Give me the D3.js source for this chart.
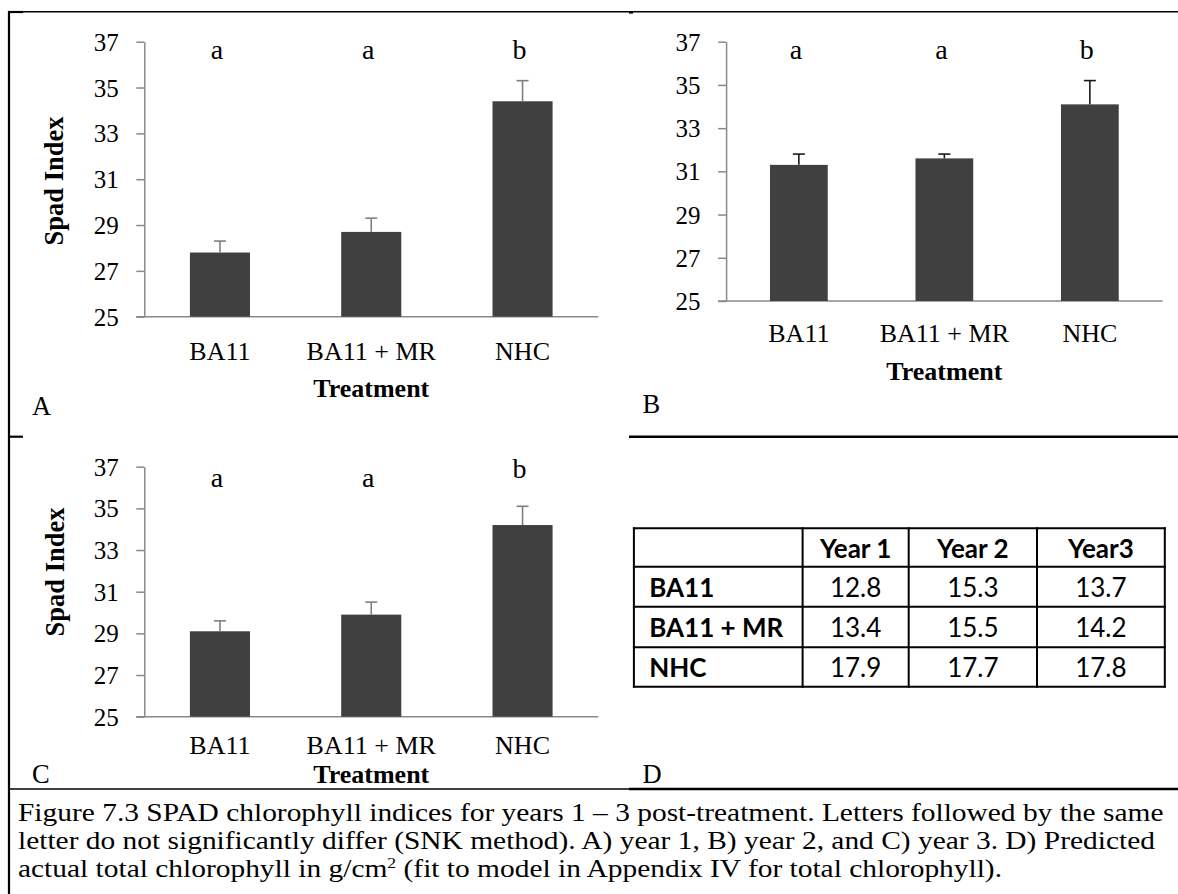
<!DOCTYPE html>
<html>
<head>
<meta charset="utf-8">
<script src="https://cdn.jsdelivr.net/npm/d3@7"></script>
<style>
  body { margin: 0; background: #fff; }
  svg { display: block; }
</style>
</head>
<body>
<svg id="fig" width="1178" height="894"></svg>
<script>
// ---- data ----
const treatments = ["BA11", "BA11 + MR", "NHC"];
const year1Means = [27.8, 28.7, 34.4];
const year1Errors = [0.5, 0.6, 0.9];
const year2Means = [31.3, 31.6, 34.1];
const year2Errors = [0.5, 0.2, 1.1];
const year3Means = [29.1, 29.9, 34.2];
const year3Errors = [0.5, 0.6, 0.9];
const groupLetters = ["a", "a", "b"];
const yTicks = [25, 27, 29, 31, 33, 35, 37];
const tableColumns = ["Year 1", "Year 2", "Year3"];
const chlorophyllYear1 = [12.8, 13.4, 17.9];
const chlorophyllYear2 = [15.3, 15.5, 17.7];
const chlorophyllYear3 = [13.7, 14.2, 17.8];
const captionLine1 = "Figure 7.3 SPAD chlorophyll indices for years 1 \u2013 3 post-treatment. Letters followed by the same";
const captionLine2 = "letter do not significantly differ (SNK method). A) year 1, B) year 2, and C) year 3. D) Predicted";
const captionLine3a = "actual total chlorophyll in g/cm";
const captionLine3b = "2";
const captionLine3c = " (fit to model in Appendix IV for total chlorophyll).";

// ---- styling ----
const serif = "'Liberation Serif', 'Times New Roman', serif";
const sans = "Lato, 'Open Sans', sans-serif";
const axisGray = "#898989";
const barFill = "#404040";

const svg = d3.select("#fig");

function label(parent, x, y, str, size, opts = {}) {
  return parent.append("text")
    .attr("x", x).attr("y", y)
    .attr("text-anchor", opts.anchor || "start")
    .attr("font-family", serif)
    .attr("font-size", size)
    .attr("font-weight", opts.weight || "normal")
    .attr("fill", "#000")
    .text(str);
}

// ---- layout frame (document table borders) ----
const frame = svg.append("g").attr("stroke", "#000").attr("fill", "none");
frame.append("line").attr("x1", 8).attr("x2", 1178).attr("y1", 11.7).attr("y2", 11.7).attr("stroke-width", 1.4);
frame.append("line").attr("x1", 8).attr("x2", 23).attr("y1", 12).attr("y2", 12).attr("stroke-width", 2.2);
frame.append("line").attr("x1", 629).attr("x2", 633).attr("y1", 12.5).attr("y2", 12.5).attr("stroke-width", 2.2);
frame.append("line").attr("x1", 9).attr("x2", 9).attr("y1", 11).attr("y2", 894).attr("stroke-width", 2.2);
frame.append("line").attr("x1", 8).attr("x2", 23).attr("y1", 436.7).attr("y2", 436.7).attr("stroke-width", 2.2);
frame.append("line").attr("x1", 629).attr("x2", 1178).attr("y1", 436.7).attr("y2", 436.7).attr("stroke-width", 2.4);
frame.append("line").attr("x1", 8).attr("x2", 629).attr("y1", 789).attr("y2", 789).attr("stroke-width", 1.4);
frame.append("line").attr("x1", 629).attr("x2", 1178).attr("y1", 789).attr("y2", 789).attr("stroke-width", 2.4);

// ---- bar chart panels ----
const panels = [
  { means: year1Means, errors: year1Errors, x0: 144.3, x1: 598.2, yTop: 41.7, yBottom: 316.7,
    errColor: "#7f7f7f", letterY: [59, 59, 59], labelY: 360, titleY: 396.7,
    tag: "A", tagX: 32, tagY: 415, yTitle: true, yTitleX: 62.5, yTitleY: 181 },
  { means: year2Means, errors: year2Errors, x0: 726.1, x1: 1162.6, yTop: 41.7, yBottom: 301,
    errColor: "#1a1a1a", letterY: [59, 59, 59], labelY: 341.7, titleY: 380,
    tag: "B", tagX: 642.5, tagY: 413, yTitle: false },
  { means: year3Means, errors: year3Errors, x0: 144.3, x1: 598.2, yTop: 466.7, yBottom: 716.7,
    errColor: "#7f7f7f", letterY: [487, 487, 478], labelY: 754, titleY: 783,
    tag: "C", tagX: 32, tagY: 783, yTitle: true, yTitleX: 64, yTitleY: 572 }
];

panels.forEach(p => {
  const g = svg.append("g");
  const x = d3.scaleBand().domain(treatments).range([p.x0, p.x1])
    .paddingInner(0.603).paddingOuter(0.3015);
  const y = d3.scaleLinear().domain([25, 37]).range([p.yBottom, p.yTop]);

  // value axis
  const ax = g.append("g")
    .attr("transform", `translate(${p.x0},0)`)
    .call(d3.axisLeft(y).tickValues(yTicks).tickSize(8).tickSizeOuter(0)
      .tickPadding(17.5).tickFormat(d3.format("d")));
  ax.select(".domain").attr("stroke", axisGray).attr("stroke-width", 1.5);
  ax.selectAll(".tick line").attr("stroke", axisGray).attr("stroke-width", 1.5);
  ax.selectAll(".tick text")
    .attr("dy", "0.34em")
    .attr("font-family", serif).attr("font-size", 25).attr("fill", "#000");

  // category axis line
  g.append("line")
    .attr("x1", p.x0 - 8).attr("x2", p.x1)
    .attr("y1", y(25)).attr("y2", y(25))
    .attr("stroke", axisGray).attr("stroke-width", 1.5);

  const rows = treatments.map((t, i) => ({ t, m: p.means[i], e: p.errors[i], letter: groupLetters[i], ly: p.letterY[i] }));
  const cx = d => x(d.t) + x.bandwidth() / 2;

  // bars
  g.selectAll("rect.bar").data(rows).join("rect")
    .attr("class", "bar")
    .attr("x", d => x(d.t))
    .attr("width", x.bandwidth())
    .attr("y", d => y(d.m))
    .attr("height", d => y(25) - y(d.m))
    .attr("fill", barFill);

  // upper error bars
  const eb = g.selectAll("g.err").data(rows).join("g").attr("class", "err")
    .attr("stroke", p.errColor).attr("stroke-width", 1.6);
  eb.append("line")
    .attr("x1", cx).attr("x2", cx)
    .attr("y1", d => y(d.m)).attr("y2", d => y(d.m + d.e));
  eb.append("line")
    .attr("x1", d => cx(d) - 6).attr("x2", d => cx(d) + 6)
    .attr("y1", d => y(d.m + d.e)).attr("y2", d => y(d.m + d.e));

  // significance letters, category labels
  rows.forEach(d => {
    label(g, cx(d) - 3, d.ly, d.letter, 28, { anchor: "middle" });
    label(g, cx(d), p.labelY, d.t, 26, { anchor: "middle" });
  });

  // axis titles and panel tag
  label(g, (p.x0 + p.x1) / 2, p.titleY, "Treatment", 26, { anchor: "middle", weight: "bold" });
  if (p.yTitle) {
    g.append("text")
      .attr("transform", `translate(${p.yTitleX},${p.yTitleY}) rotate(-90)`)
      .attr("text-anchor", "middle")
      .attr("font-family", serif).attr("font-size", 26.5).attr("font-weight", "bold")
      .text("Spad Index");
  }
  label(g, p.tagX, p.tagY, p.tag, 26.5);
});

// panel D tag
label(svg, 642.5, 783, "D", 26.5);

// ---- predicted chlorophyll table ----
const colEdges = [633.9, 802.6, 908.7, 1037, 1164.8];
const rowEdges = [528.3, 566.7, 606.7, 647.3, 686.7];
const tbl = svg.append("g");
tbl.selectAll("line.h").data(rowEdges).join("line")
  .attr("x1", colEdges[0] - 1).attr("x2", colEdges[4] + 1)
  .attr("y1", d => d).attr("y2", d => d)
  .attr("stroke", "#000").attr("stroke-width", 2);
tbl.selectAll("line.v").data(colEdges).join("line")
  .attr("x1", d => d).attr("x2", d => d)
  .attr("y1", rowEdges[0] - 1).attr("y2", rowEdges[4] + 1)
  .attr("stroke", "#000").attr("stroke-width", 2);

const colCenter = i => (colEdges[i + 1] + colEdges[i + 2]) / 2;
const rowBase = i => rowEdges[i + 1] - 10;
const headerBase = rowEdges[1] - 9;

tbl.selectAll("text.head").data(tableColumns).join("text")
  .attr("x", (d, i) => colCenter(i)).attr("y", headerBase)
  .attr("text-anchor", "middle")
  .attr("font-family", sans).attr("font-size", 26).attr("font-weight", "bold")
  .text(d => d);

tbl.selectAll("text.rowlab").data(treatments).join("text")
  .attr("x", colEdges[0] + 15.3).attr("y", (d, i) => rowBase(i + 1))
  .attr("font-family", sans).attr("font-size", 26).attr("font-weight", "bold")
  .text(d => d);

const tableCols = [chlorophyllYear1, chlorophyllYear2, chlorophyllYear3];
tableCols.forEach((col, ci) => {
  tbl.selectAll(`text.c${ci}`).data(col).join("text")
    .attr("x", colCenter(ci)).attr("y", (d, ri) => rowBase(ri + 1))
    .attr("text-anchor", "middle")
    .attr("font-family", sans).attr("font-size", 26)
    .text(d => d.toFixed(1));
});

// ---- caption ----
const cap = svg.append("g").attr("font-family", serif).attr("font-size", 25).attr("fill", "#000");
const l1 = cap.append("text").text(captionLine1);
const natural = l1.node().getComputedTextLength();
const sx = (1164 - 18) / natural;
l1.attr("transform", `translate(18,821) scale(${sx},1)`);
cap.append("text").attr("transform", `translate(18,849) scale(${sx},1)`).text(captionLine2);
const l3 = cap.append("text").attr("transform", `translate(18,877) scale(${sx},1)`);
l3.append("tspan").text(captionLine3a);
l3.append("tspan").attr("dy", -9).attr("font-size", 15).text(captionLine3b);
l3.append("tspan").attr("dy", 9).text(captionLine3c);
</script>
</body>
</html>
